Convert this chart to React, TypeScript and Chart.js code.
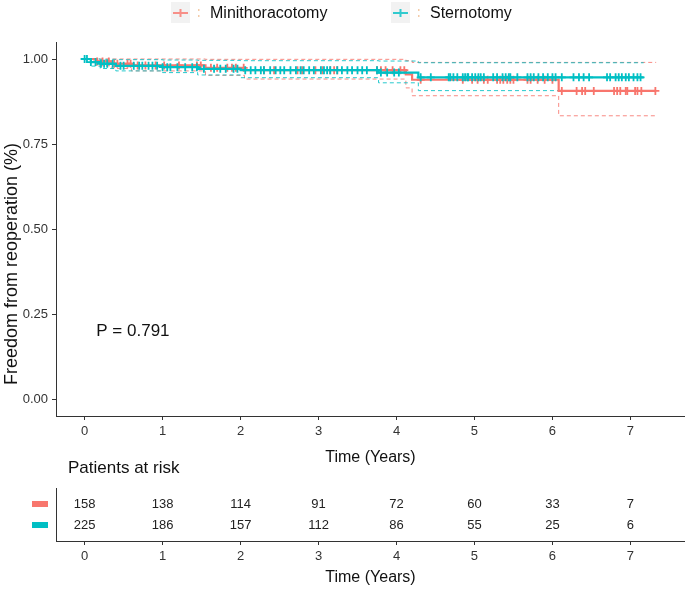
import React, { useEffect, useRef } from 'react';
import { Chart, registerables } from 'chart.js';

Chart.register(...registerables);

const FONT = "'Liberation Sans', Arial, Helvetica, sans-serif";
const RED = '#F8766D';
const CYAN = '#00BFC4';
const RED_CI = 'rgba(248,118,109,0.85)';
const CYAN_CI = 'rgba(0,191,196,0.85)';

// ---- text ----
const groupLabels = ['Minithoracotomy', 'Sternotomy'];
const xTitle = 'Time (Years)';
const yTitle = 'Freedom from reoperation (%)';
const pValueText = 'P = 0.791';
const pValueX = 0.15;
const pValueY = 0.2;
const riskTitle = 'Patients at risk';

// ---- axes ----
const X_MIN = -0.367;
const X_MAX = 7.7;
const Y_MIN = -0.05;
const Y_MAX = 1.05;
const xTicks = [0, 1, 2, 3, 4, 5, 6, 7];
const xTickLabels = ['0', '1', '2', '3', '4', '5', '6', '7'];
const yTicks = [0, 0.25, 0.5, 0.75, 1];
const yTickLabels = ['0.00', '0.25', '0.50', '0.75', '1.00'];

// ---- Minithoracotomy KM steps ----
const miniTimes = [0, 0.15, 0.35, 0.6, 1.55, 2.05, 4.12, 4.2, 6.08, 7.33];
const miniSurv = [1.0, 0.993, 0.986, 0.981, 0.974, 0.967, 0.955, 0.939, 0.906, 0.906];
const miniUpper = [1.0, 1.0, 1.0, 1.0, 0.999, 0.999, 0.995, 0.99, 0.99, 0.99];
const miniLower = [1.0, 0.98, 0.972, 0.965, 0.952, 0.941, 0.915, 0.892, 0.833, 0.833];
const miniCensor = [
  0.16, 0.23, 0.31, 0.38, 0.42, 0.55, 0.59, 0.68, 0.78, 0.91, 1.02, 1.21, 1.44, 1.49, 1.62, 1.7,
  1.83, 1.89, 1.94, 2.04, 2.3, 2.43, 2.73, 2.79, 2.96, 3.05, 3.15, 3.2, 3.24, 3.75, 3.8, 3.86,
  3.95, 4.05, 4.1, 4.31, 4.85, 4.97, 5.04, 5.12, 5.17, 5.29, 5.33, 5.37, 5.42, 5.46, 5.5, 5.68,
  5.72, 5.81, 5.9, 6.0, 6.12, 6.31, 6.38, 6.42, 6.53, 6.79, 6.83, 6.87, 6.94, 6.96, 7.06, 7.09,
  7.14, 7.32,
];

// ---- Sternotomy KM steps ----
const sternTimes = [0, 0.08, 0.2, 0.4, 1.0, 1.45, 2.0, 3.77, 4.28, 7.17];
const sternSurv = [1.0, 0.991, 0.986, 0.98, 0.976, 0.971, 0.967, 0.96, 0.946, 0.946];
const sternUpper = [1.0, 1.0, 0.999, 0.998, 0.997, 0.996, 0.995, 0.994, 0.989, 0.989];
const sternLower = [1.0, 0.979, 0.972, 0.965, 0.96, 0.953, 0.945, 0.93, 0.907, 0.907];
const sternCensor = [
  0.0, 0.03, 0.08, 0.14, 0.21, 0.25, 0.29, 0.36, 0.46, 0.5, 0.63, 0.7, 0.74, 0.82, 0.87, 0.93,
  1.0, 1.06, 1.1, 1.19, 1.29, 1.38, 1.44, 1.53, 1.66, 1.74, 1.81, 1.91, 1.96, 2.06, 2.13, 2.19,
  2.26, 2.3, 2.38, 2.45, 2.51, 2.56, 2.64, 2.71, 2.77, 2.81, 2.88, 2.94, 3.03, 3.07, 3.11, 3.15,
  3.24, 3.3, 3.37, 3.43, 3.5, 3.56, 3.62, 3.75, 3.8, 3.88, 3.97, 4.03, 4.31, 4.44, 4.67, 4.69,
  4.73, 4.78, 4.85, 4.88, 4.91, 4.92, 4.97, 5.01, 5.05, 5.08, 5.12, 5.24, 5.29, 5.36, 5.4, 5.44,
  5.46, 5.55, 5.68, 5.72, 5.76, 5.82, 5.88, 5.94, 6.0, 6.04, 6.12, 6.27, 6.34, 6.4, 6.47, 6.7,
  6.74, 6.81, 6.85, 6.89, 6.94, 6.98, 7.04, 7.09, 7.13,
];

// ---- risk table ----
const riskTimes = [0, 1, 2, 3, 4, 5, 6, 7];
const riskMini = [158, 138, 114, 91, 72, 60, 33, 7];
const riskStern = [225, 186, 157, 112, 86, 55, 25, 6];
const riskRows = [2, 1];
const RISK_Y_MIN = 0.24;
const RISK_Y_MAX = 2.76;

function stepAt(times: number[], vals: number[], t: number) {
  let v = vals[0];
  for (let i = 0; i < times.length; i++) if (times[i] <= t) v = vals[i];
  return v;
}
const stepPoints = (times: number[], vals: number[]) => times.map((t, i) => ({ x: t, y: vals[i] }));
const censorPoints = (ct: number[], times: number[], surv: number[]) =>
  ct.map((t) => ({ x: t, y: stepAt(times, surv, t) }));

function xAxis(height: number, titlePadBottom: number) {
  return {
    type: 'linear' as const,
    min: X_MIN,
    max: X_MAX,
    afterBuildTicks: (s: any) => {
      s.ticks = xTicks.map((v) => ({ value: v }));
    },
    afterFit: (s: any) => {
      s.height = height;
    },
    border: { display: true, color: '#333', width: 1 },
    grid: { display: true, drawOnChartArea: false, drawTicks: true, tickLength: 4, color: '#333', lineWidth: 1 },
    ticks: {
      color: '#333',
      font: { family: FONT, size: 13 },
      padding: 4,
      maxRotation: 0,
      autoSkip: false,
      callback: (_v: any, i: number) => xTickLabels[i],
    },
    title: {
      display: true,
      text: xTitle,
      color: '#111',
      font: { family: FONT, size: 16 },
      padding: { top: 0, bottom: titlePadBottom },
    },
  };
}

const mainOverlay = {
  id: 'mainOverlay',
  afterDraw(chart: any) {
    const ctx = chart.ctx;
    const xs = chart.scales.x;
    const ys = chart.scales.y;
    ctx.save();
    // y title
    ctx.fillStyle = '#111';
    ctx.font = `18px ${FONT}`;
    ctx.textAlign = 'center';
    ctx.textBaseline = 'middle';
    ctx.translate(12, 264);
    ctx.rotate(-Math.PI / 2);
    ctx.fillText(yTitle, 0, 0);
    ctx.restore();

    // p value
    ctx.save();
    ctx.fillStyle = '#111';
    ctx.font = `17px ${FONT}`;
    ctx.textAlign = 'left';
    ctx.textBaseline = 'middle';
    ctx.fillText(pValueText, xs.getPixelForValue(pValueX), ys.getPixelForValue(pValueY));
    ctx.restore();

    // legend
    const items = [
      { key: 171, label: groupLabels[0], color: 'rgba(248,118,109,0.8)' },
      { key: 391, label: groupLabels[1], color: 'rgba(0,191,196,0.8)' },
    ];
    ctx.save();
    items.forEach((it) => {
      const cy = 13;
      ctx.fillStyle = '#F2F2F2';
      ctx.fillRect(it.key, 2, 19, 21);
      ctx.strokeStyle = it.color;
      ctx.lineWidth = 2;
      ctx.beginPath();
      ctx.moveTo(it.key + 2, cy);
      ctx.lineTo(it.key + 17, cy);
      ctx.moveTo(it.key + 9.5, cy - 4);
      ctx.lineTo(it.key + 9.5, cy + 4);
      ctx.stroke();
      ctx.fillStyle = '#F3CBA8';
      ctx.fillRect(it.key + 27, cy - 4, 1.5, 2);
      ctx.fillRect(it.key + 27, cy + 2, 1.5, 2);
      ctx.fillStyle = '#111';
      ctx.font = `16px ${FONT}`;
      ctx.textAlign = 'left';
      ctx.textBaseline = 'middle';
      ctx.fillText(it.label, it.key + 39, cy + 1);
    });
    ctx.restore();
  },
};

const tableOverlay = {
  id: 'tableOverlay',
  afterDatasetsDraw(chart: any) {
    const ctx = chart.ctx;
    const values = [riskMini, riskStern];
    const colors = [RED, CYAN];
    ctx.save();
    ctx.font = `13px ${FONT}`;
    ctx.textAlign = 'center';
    ctx.textBaseline = 'middle';
    values.forEach((vals, i) => {
      const meta = chart.getDatasetMeta(i);
      meta.data.forEach((pt: any, j: number) => {
        ctx.fillStyle = '#222';
        ctx.fillText(String(vals[j]), pt.x, pt.y);
      });
      const yRow = chart.scales.y.getPixelForValue(riskRows[i]);
      ctx.fillStyle = colors[i];
      ctx.fillRect(32, yRow - 3, 16, 6);
    });
    ctx.fillStyle = '#111';
    ctx.font = `17px ${FONT}`;
    ctx.textAlign = 'left';
    ctx.fillText(riskTitle, 68, 16);
    ctx.restore();
  },
};

export default function App() {
  const mainRef = useRef<HTMLCanvasElement>(null);
  const tableRef = useRef<HTMLCanvasElement>(null);

  useEffect(() => {
    const lineDs = (label: string, data: any[], color: string, width: number, dash: number[]) => ({
      label,
      data,
      borderColor: color,
      backgroundColor: color,
      borderWidth: width,
      borderDash: dash,
      stepped: 'before' as const,
      pointRadius: 0,
      fill: false,
      tension: 0,
    });
    const censorDs = (label: string, data: any[], color: string) => ({
      label,
      data,
      showLine: false,
      pointStyle: 'cross' as const,
      pointRadius: 4,
      pointBorderWidth: 1.8,
      pointBorderColor: color,
      pointBackgroundColor: color,
      borderColor: color,
    });

    const main = new Chart(mainRef.current as HTMLCanvasElement, {
      type: 'line',
      data: {
        datasets: [
          censorDs(groupLabels[1] + ' censored', censorPoints(sternCensor, sternTimes, sternSurv), CYAN),
          lineDs(groupLabels[1], stepPoints(sternTimes, sternSurv), CYAN, 2.2, []),
          censorDs(groupLabels[0] + ' censored', censorPoints(miniCensor, miniTimes, miniSurv), RED),
          lineDs(groupLabels[0], stepPoints(miniTimes, miniSurv), RED, 2.2, []),
          lineDs(groupLabels[1] + ' upper', stepPoints(sternTimes, sternUpper), CYAN_CI, 1, [4, 3]),
          lineDs(groupLabels[1] + ' lower', stepPoints(sternTimes, sternLower), CYAN_CI, 1, [4, 3]),
          lineDs(groupLabels[0] + ' upper', stepPoints(miniTimes, miniUpper), RED_CI, 1, [4, 3]),
          lineDs(groupLabels[0] + ' lower', stepPoints(miniTimes, miniLower), RED_CI, 1, [4, 3]),
        ] as any,
      },
      options: {
        animation: false,
        responsive: false,
        maintainAspectRatio: false,
        layout: { autoPadding: false, padding: { top: 42, right: 0, left: 0, bottom: 0 } },
        plugins: { legend: { display: false }, tooltip: { enabled: false } },
        scales: {
          x: xAxis(54, 2.4) as any,
          y: {
            type: 'linear',
            min: Y_MIN,
            max: Y_MAX,
            afterBuildTicks: (s: any) => {
              s.ticks = yTicks.map((v) => ({ value: v }));
            },
            afterFit: (s: any) => {
              s.width = 56;
            },
            border: { display: true, color: '#333', width: 1 },
            grid: { display: true, drawOnChartArea: false, drawTicks: true, tickLength: 4, color: '#333', lineWidth: 1 },
            ticks: {
              color: '#333',
              font: { family: FONT, size: 13 },
              padding: 4,
              callback: (_v: any, i: number) => yTickLabels[i],
            },
          } as any,
        },
      },
      plugins: [mainOverlay],
    });

    const table = new Chart(tableRef.current as HTMLCanvasElement, {
      type: 'scatter',
      data: {
        datasets: [
          { label: groupLabels[0], data: riskTimes.map((t) => ({ x: t, y: riskRows[0] })), pointRadius: 0 },
          { label: groupLabels[1], data: riskTimes.map((t) => ({ x: t, y: riskRows[1] })), pointRadius: 0 },
        ],
      },
      options: {
        animation: false,
        responsive: false,
        maintainAspectRatio: false,
        layout: { autoPadding: false, padding: { top: 36, right: 0, left: 0, bottom: 0 } },
        plugins: { legend: { display: false }, tooltip: { enabled: false } },
        scales: {
          x: xAxis(48, 1.4) as any,
          y: {
            type: 'linear',
            min: RISK_Y_MIN,
            max: RISK_Y_MAX,
            afterFit: (s: any) => {
              s.width = 56;
            },
            border: { display: true, color: '#333', width: 1 },
            grid: { display: false },
            ticks: { display: false },
          } as any,
        },
      },
      plugins: [tableOverlay],
    });

    return () => {
      main.destroy();
      table.destroy();
    };
  }, []);

  return (
    <div style={{ position: 'fixed', left: 0, top: 0, width: 685, height: 589, background: '#fff' }}>
      <canvas
        ref={mainRef}
        width={685}
        height={470}
        style={{ position: 'absolute', left: 0, top: 0, width: 685, height: 470 }}
      />
      <canvas
        ref={tableRef}
        width={685}
        height={137}
        style={{ position: 'absolute', left: 0, top: 452, width: 685, height: 137 }}
      />
    </div>
  );
}
